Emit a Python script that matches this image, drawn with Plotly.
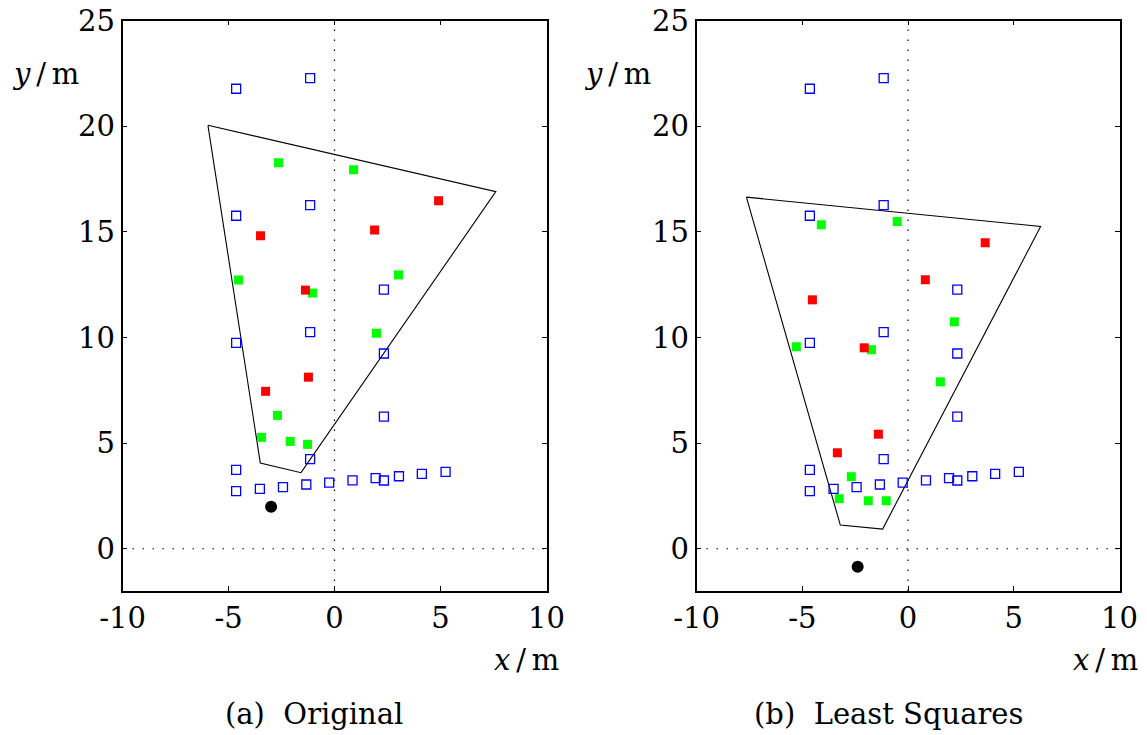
import plotly.graph_objects as go

# Reference beacons (same in both panels)
blue_x = [-4.64, -1.15, -4.64, -1.15, 2.33, -1.15, -4.64, 2.33, 2.33, -1.15, -4.64, -4.64,
          -3.52, -2.43, -1.33, -0.25, 0.85, 1.94, 2.33, 3.04, 4.12, 5.24]
blue_y = [21.77, 22.27, 15.76, 16.26, 12.26, 10.25, 9.74, 9.24, 6.25, 4.24, 3.73, 2.73,
          2.83, 2.92, 3.04, 3.13, 3.24, 3.34, 3.23, 3.43, 3.54, 3.64]

# (a) Original
a_green_x = [-2.64, 0.90, 3.02, -4.53, -1.04, 1.98, -2.69, -3.44, -2.09, -1.27]
a_green_y = [18.27, 17.94, 12.96, 12.72, 12.10, 10.20, 6.31, 5.27, 5.08, 4.94]
a_red_x = [4.91, 1.89, -3.49, -1.37, -1.23, -3.25]
a_red_y = [16.47, 15.09, 14.81, 12.24, 8.12, 7.45]
a_poly_x = [-5.97, 7.61, -1.58, -3.50, -5.97]
a_poly_y = [20.04, 16.90, 3.60, 4.06, 20.04]
a_dot_x = [-2.99]
a_dot_y = [1.99]

# (b) Least Squares
b_green_x = [-4.10, -0.51, 2.19, -5.28, -1.73, 1.53, -2.68, -3.25, -1.88, -1.03]
b_green_y = [15.33, 15.49, 10.74, 9.56, 9.42, 7.90, 3.41, 2.37, 2.27, 2.27]
b_red_x = [3.65, 0.82, -4.52, -2.07, -1.40, -3.34]
b_red_y = [14.48, 12.73, 11.78, 9.51, 5.42, 4.54]
b_poly_x = [-7.64, 6.27, -1.20, -3.20, -7.64]
b_poly_y = [16.64, 15.25, 0.93, 1.12, 16.64]
b_dot_x = [-2.38]
b_dot_y = [-0.85]

x_ticks = [-10, -5, 0, 5, 10]
x_ticktext = ["-10", "-5", "0", "5", "10"]
y_ticks = [0, 5, 10, 15, 20, 25]
y_ticktext = ["0", "5", "10", "15", "20", "25"]
captions = ["(a)  Original", "(b)  Least Squares"]

FONT = "DejaVu Serif"
W, H = 1147, 735

fig = go.Figure()

panels = [
    (a_poly_x, a_poly_y, a_green_x, a_green_y, a_red_x, a_red_y, a_dot_x, a_dot_y, "x", "y"),
    (b_poly_x, b_poly_y, b_green_x, b_green_y, b_red_x, b_red_y, b_dot_x, b_dot_y, "x2", "y2"),
]

for (px, py, gx, gy, rx, ry, dx, dy, xa, ya) in panels:
    # dotted zero lines
    fig.add_trace(go.Scatter(x=[0, 0], y=[-2, 25], mode="lines",
                             line=dict(color="black", width=1.2, dash="1.5px,8.5px"),
                             xaxis=xa, yaxis=ya, hoverinfo="skip"))
    fig.add_trace(go.Scatter(x=[-10, 10], y=[0, 0], mode="lines",
                             line=dict(color="black", width=1.2, dash="1.5px,8.5px"),
                             xaxis=xa, yaxis=ya, hoverinfo="skip"))
    fig.add_trace(go.Scatter(x=px, y=py, mode="lines", line=dict(color="black", width=1.1),
                             xaxis=xa, yaxis=ya, hoverinfo="skip"))
    fig.add_trace(go.Scatter(x=blue_x, y=blue_y, mode="markers",
                             marker=dict(symbol="square-open", size=9, color="#0000ff",
                                         line=dict(width=1.3, color="#0000ff")),
                             xaxis=xa, yaxis=ya))
    fig.add_trace(go.Scatter(x=gx, y=gy, mode="markers",
                             marker=dict(symbol="square", size=9, color="#00ff00", line=dict(width=0)),
                             xaxis=xa, yaxis=ya))
    fig.add_trace(go.Scatter(x=rx, y=ry, mode="markers",
                             marker=dict(symbol="square", size=9, color="#ff0000", line=dict(width=0)),
                             xaxis=xa, yaxis=ya))
    fig.add_trace(go.Scatter(x=dx, y=dy, mode="markers",
                             marker=dict(symbol="circle", size=12, color="black", line=dict(width=0)),
                             xaxis=xa, yaxis=ya))

y_dom = [1 - 591 / H, 1 - 20.5 / H]
ax_common = dict(showgrid=False, zeroline=False, showline=True, linecolor="black", linewidth=1.6,
                 mirror="ticks", ticks="inside", ticklen=5, tickwidth=1, tickcolor="black",
                 automargin=False,
                 tickfont=dict(family=FONT, size=29, color="black"))

fig.update_layout(
    width=W, height=H,
    margin=dict(l=0, r=0, t=0, b=0, pad=0, autoexpand=False),
    paper_bgcolor="white", plot_bgcolor="white",
    showlegend=False,
    xaxis=dict(domain=[122.5 / W, 546.5 / W], range=[-10, 10], tickvals=x_ticks, ticktext=x_ticktext,
               anchor="y", **ax_common),
    yaxis=dict(domain=y_dom, range=[-2, 25], tickvals=y_ticks, ticktext=y_ticktext,
               anchor="x", **ax_common),
    xaxis2=dict(domain=[696.5 / W, 1119.5 / W], range=[-10, 10], tickvals=x_ticks, ticktext=x_ticktext,
                anchor="y2", **ax_common),
    yaxis2=dict(domain=y_dom, range=[-2, 25], tickvals=y_ticks, ticktext=y_ticktext,
                anchor="x2", **ax_common),
)

ann_font = dict(family=FONT, size=29, color="black")
for cx, ylab_x, xlab_x, cap in [(314, 45, 526, captions[0]), (888, 618, 1105, captions[1])]:
    fig.add_annotation(text="<i>y</i>\u2009/\u2009m", xref="paper", yref="paper", x=ylab_x / W, y=1 - 74 / H,
                       showarrow=False, font=ann_font, xanchor="center", yanchor="middle")
    fig.add_annotation(text="<i>x</i>\u2009/\u2009m", xref="paper", yref="paper", x=xlab_x / W, y=1 - 660 / H,
                       showarrow=False, font=ann_font, xanchor="center", yanchor="middle")
    fig.add_annotation(text=cap, xref="paper", yref="paper", x=cx / W, y=1 - 714 / H,
                       showarrow=False, font=ann_font, xanchor="center", yanchor="middle")

fig.write_html("out.html")
